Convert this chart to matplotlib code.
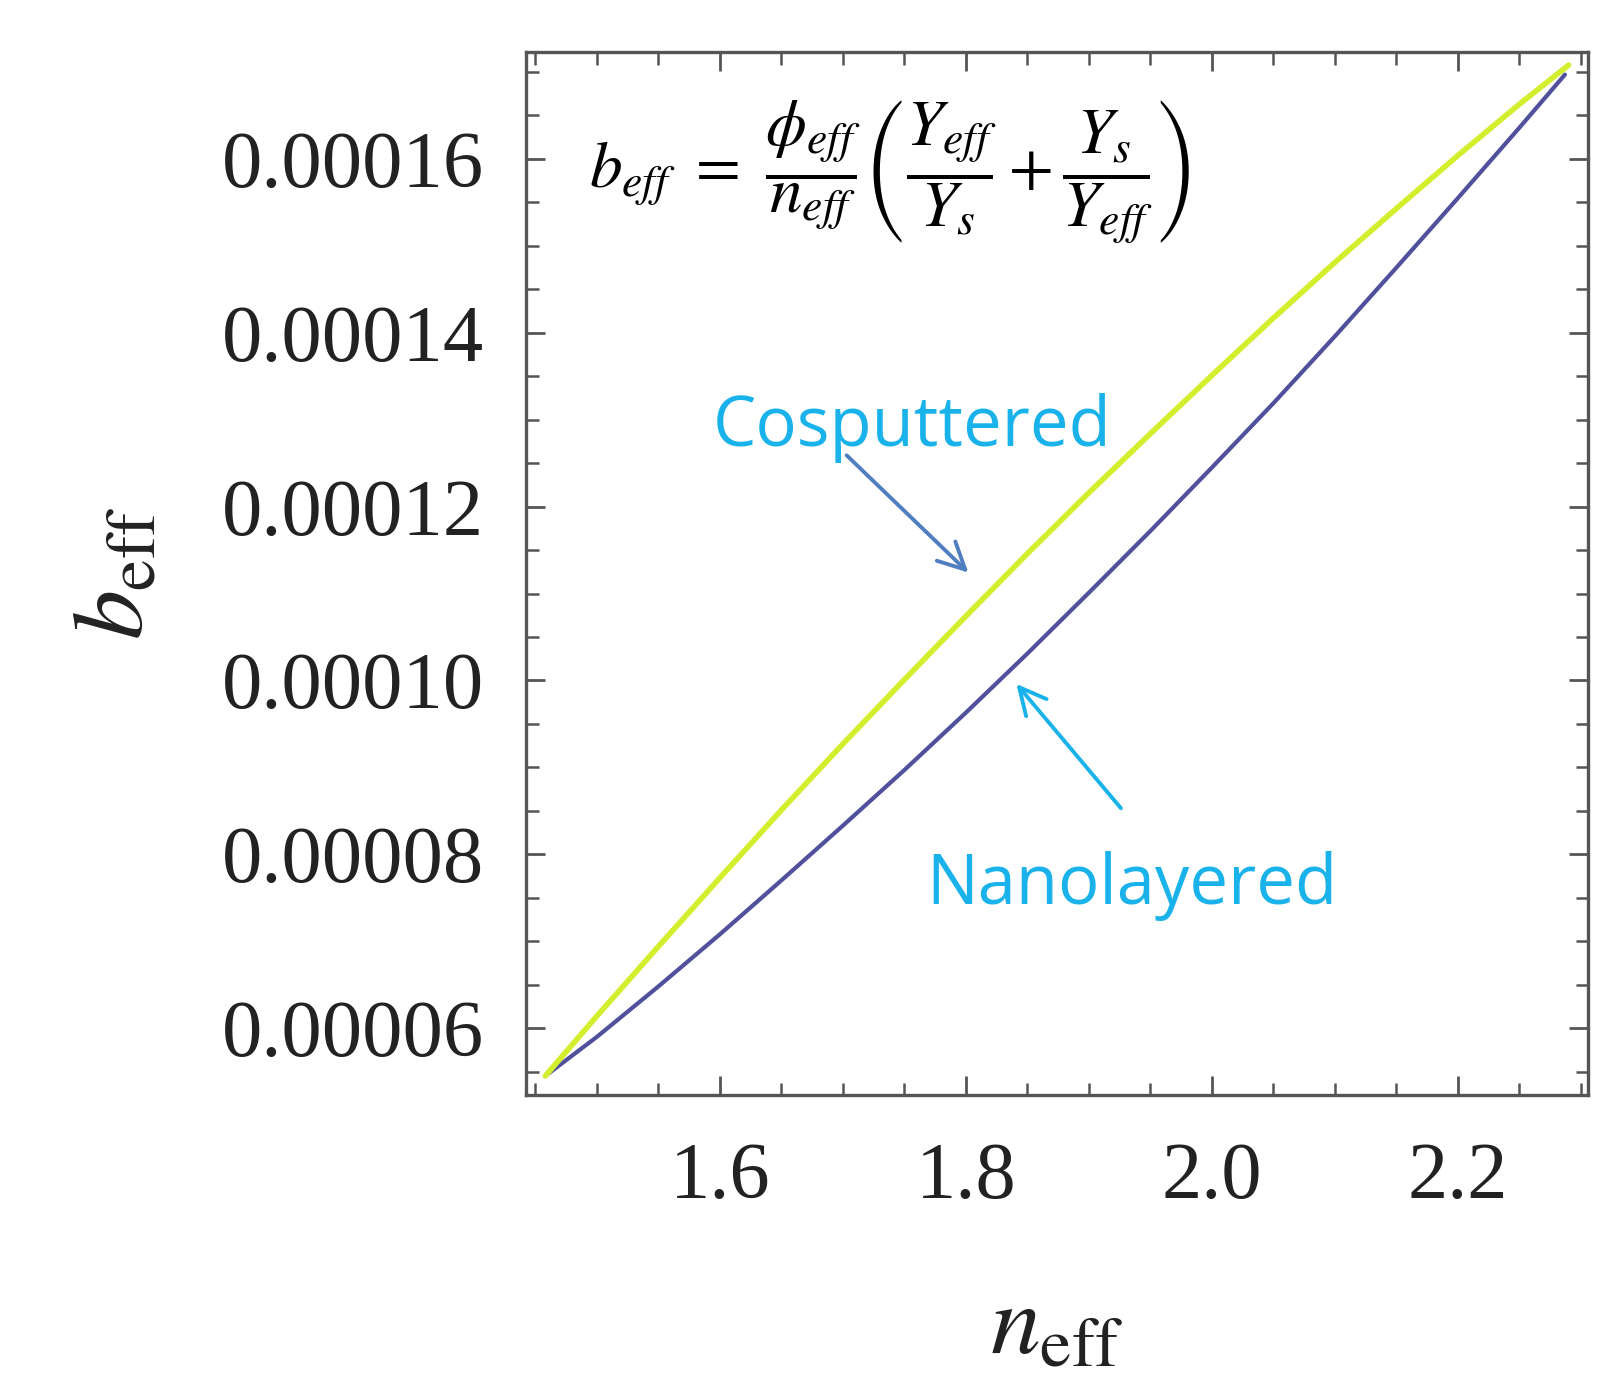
import matplotlib
matplotlib.use("Agg")
import matplotlib.pyplot as plt
from matplotlib.ticker import MultipleLocator, FuncFormatter

# ---- data ----
cos_n = [1.458, 1.50, 1.55, 1.60, 1.65, 1.70, 1.75, 1.80, 1.85, 1.90, 1.95,
         2.00, 2.05, 2.10, 2.15, 2.20, 2.25, 2.290]
cos_b = [0.0000545, 0.0000614, 0.0000694, 0.0000773, 0.0000851, 0.0000927,
         0.0001001, 0.0001074, 0.0001146, 0.0001216, 0.0001284, 0.0001351,
         0.0001417, 0.0001481, 0.0001543, 0.0001604, 0.0001663, 0.0001708]

nano_n = [1.458, 1.50, 1.55, 1.60, 1.65, 1.70, 1.75, 1.80, 1.85, 1.90, 1.95,
          2.00, 2.05, 2.10, 2.15, 2.20, 2.25, 2.287]
nano_b = [0.0000545, 0.0000590, 0.0000648, 0.0000708, 0.0000770, 0.0000833,
          0.0000897, 0.0000963, 0.0001031, 0.0001101, 0.0001172, 0.0001245,
          0.0001319, 0.0001396, 0.0001475, 0.0001555, 0.0001636, 0.0001697]

x_ticks = [1.6, 1.8, 2.0, 2.2]
y_ticks = [0.00006, 0.00008, 0.00010, 0.00012, 0.00014, 0.00016]

plt.rcParams['font.family'] = 'serif'
plt.rcParams['font.serif'] = ['Liberation Serif', 'DejaVu Serif']
plt.rcParams['mathtext.fontset'] = 'stix'

fig = plt.figure(figsize=(16.2, 13.84), dpi=100)
ax = fig.add_axes([0.3247, 0.2088, 0.9802 - 0.3247, 0.9624 - 0.2088])

ax.plot(cos_n, cos_b, color='#d2ee2c', lw=4.0, solid_capstyle='round', zorder=3)
ax.plot(nano_n, nano_b, color='#50509c', lw=3.0, solid_capstyle='round', zorder=2)

ax.set_xlim(1.4423, 2.3057)
ax.set_ylim(0.0000523, 0.0001723)

ax.set_xticks(x_ticks)
ax.set_yticks(y_ticks)
ax.xaxis.set_minor_locator(MultipleLocator(0.05))
ax.yaxis.set_minor_locator(MultipleLocator(0.000005))
ax.xaxis.set_major_formatter(FuncFormatter(lambda v, p: f"{v:.1f}"))
ax.yaxis.set_major_formatter(FuncFormatter(lambda v, p: f"{v:.5f}"))

frame_col = '#555555'
for s in ax.spines.values():
    s.set_color(frame_col)
    s.set_linewidth(2.4)

ax.tick_params(which='both', direction='in', top=True, right=True, color=frame_col)
ax.tick_params(which='major', length=14, width=2.0, labelsize=58, labelcolor='#222222')
ax.tick_params(axis='y', which='major', pad=30)
ax.tick_params(axis='x', which='major', pad=34)
ax.tick_params(which='minor', length=9, width=1.8)

ax.set_ylabel(r'$b_{\mathrm{eff}}$', fontsize=72, color='#222222', labelpad=42)
ax.set_xlabel(r'$n_{\mathrm{eff}}$', fontsize=72, color='#222222', labelpad=50)

# formula
ax.text(1.4935, 0.0001585,
        r'$b_{eff}\ =\ \dfrac{\phi_{eff}}{n_{eff}}\left(\dfrac{Y_{eff}}{Y_s}+\dfrac{Y_s}{Y_{eff}}\right)$',
        fontsize=47, color='black', va='center', ha='left')

label_col = '#1ab2ea'
ax.text(1.594, 0.000127, 'Cosputtered', fontsize=49.5, color=label_col,
        family='Open Sans', va='baseline', ha='left')
ax.text(1.768, 0.0000743, 'Nanolayered', fontsize=49.5, color=label_col,
        family='Open Sans', va='baseline', ha='left')

ax.annotate('', xy=(1.802, 0.0001124), xytext=(1.703, 0.0001259),
            arrowprops=dict(arrowstyle='->', color='#4f7fc0', lw=2.8,
                            mutation_scale=48, shrinkA=0, shrinkB=0))
ax.annotate('', xy=(1.841, 0.0000996), xytext=(1.926, 0.0000853),
            arrowprops=dict(arrowstyle='->', color=label_col, lw=2.8,
                            mutation_scale=48, shrinkA=0, shrinkB=0))

fig.savefig('out.png', dpi=100)
